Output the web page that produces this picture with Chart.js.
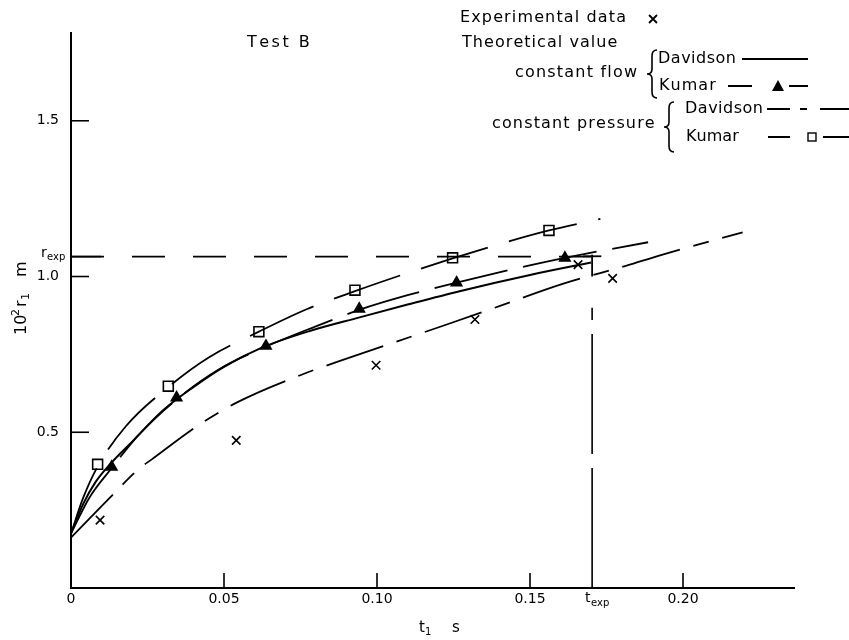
<!DOCTYPE html>
<html>
<head>
<meta charset="utf-8">
<script src="https://cdn.jsdelivr.net/npm/chart.js@4.4.0/dist/chart.umd.min.js"></script>
<style>
  html, body { margin: 0; padding: 0; background: #fff; }
  #wrap { width: 849px; height: 640px; }
</style>
</head>
<body>
<div id="wrap"><canvas id="chart" width="849" height="640"></canvas></div>
<script>
// Test B -- bubble radius 10^2 r1 (m) against time t1 (s)
const T_EXP = 0.1703;
const R_EXP = 1.064;

const xTicks = [0, 0.05, 0.10, 0.15, 0.20];
const xTickLabels = ['0', '0.05', '0.10', '0.15', '0.20'];
const yTicks = [0.5, 1.0, 1.5];
const yTickLabels = ['0.5', '1.0', '1.5'];

// experimental data (x)
const expT = [0.0095, 0.054, 0.0997, 0.132, 0.1657, 0.177];
const expR = [0.218, 0.474, 0.715, 0.862, 1.038, 0.994];

// constant flow, Davidson (solid)
const davFlowT = [0, 0.004, 0.008, 0.013, 0.02, 0.03, 0.04, 0.05, 0.062, 0.078, 0.094, 0.11, 0.127, 0.15, 0.17];
const davFlowR = [0.175, 0.27, 0.34, 0.40, 0.47, 0.57, 0.645, 0.71, 0.77, 0.825, 0.868, 0.91, 0.953, 1.005, 1.045];

// constant flow, Kumar (dashed, triangles)
const kumFlowT = [0, 0.006, 0.0133, 0.022, 0.0345, 0.048, 0.0637, 0.08, 0.0942, 0.11, 0.126, 0.145, 0.1614, 0.1886];
const kumFlowR = [0.175, 0.29, 0.385, 0.49, 0.605, 0.70, 0.775, 0.84, 0.893, 0.94, 0.98, 1.025, 1.06, 1.11];
const kumFlowMarkT = [0.0133, 0.0345, 0.0637, 0.0942, 0.126, 0.1614];
const kumFlowMarkR = [0.389, 0.611, 0.777, 0.896, 0.980, 1.060];

// constant pressure, Davidson (long-short dash)
const davPresT = [0, 0.0133, 0.022, 0.0264, 0.0422, 0.0541, 0.077, 0.0879, 0.1228, 0.14, 0.1609, 0.1816, 0.1925, 0.2195];
const davPresR = [0.162, 0.296, 0.381, 0.413, 0.526, 0.595, 0.691, 0.729, 0.846, 0.905, 0.977, 1.035, 1.068, 1.142];

// constant pressure, Kumar (dashed, squares)
const kumPresT = [0, 0.004, 0.0087, 0.018, 0.0318, 0.045, 0.0614, 0.077, 0.0928, 0.109, 0.1247, 0.14, 0.1562, 0.173];
const kumPresR = [0.175, 0.29, 0.39, 0.52, 0.645, 0.74, 0.823, 0.895, 0.953, 1.008, 1.058, 1.104, 1.148, 1.185];
const kumPresMarkT = [0.0087, 0.0318, 0.0614, 0.0928, 0.1247, 0.1562];
const kumPresMarkR = [0.397, 0.648, 0.823, 0.956, 1.060, 1.148];

const FONT = '"DejaVu Sans", "Liberation Sans", sans-serif';

function pts(xs, ys) {
    return xs.map((x, i) => ({ x: x, y: ys[i] }));
}

function lineSet(data, dash, width) {
    return {
        data: data,
        showLine: true,
        borderColor: '#000',
        borderWidth: width || 1.8,
        borderDash: dash || [],
        pointRadius: 0,
        cubicInterpolationMode: 'monotone',
        fill: false
    };
}

function markSet(data, style, radius, fillColor) {
    return {
        data: data,
        showLine: false,
        pointStyle: style,
        pointRadius: radius,
        pointBorderColor: '#000',
        pointBackgroundColor: fillColor,
        pointBorderWidth: 1.6
    };
}

// draw text spread to a given width (the reference lettering is wide)
function spaced(ctx, text, x, y, width) {
    let natural = ctx.measureText(text).width;
    let extra = width ? (width - natural) / Math.max(text.length - 1, 1) : 0;
    let cx = x;
    for (const ch of text) {
        ctx.fillText(ch, cx, y);
        cx += ctx.measureText(ch).width + extra;
    }
}

function brace(ctx, x, y1, y2) {
    const ym = (y1 + y2) / 2;
    ctx.beginPath();
    ctx.moveTo(x + 5, y1);
    ctx.quadraticCurveTo(x, y1, x, y1 + 6);
    ctx.lineTo(x, ym - 5);
    ctx.quadraticCurveTo(x, ym, x - 5, ym);
    ctx.quadraticCurveTo(x, ym, x, ym + 5);
    ctx.lineTo(x, y2 - 6);
    ctx.quadraticCurveTo(x, y2, x + 5, y2);
    ctx.stroke();
}

const decorPlugin = {
    id: 'decor',
    afterDraw(chart) {
        const ctx = chart.ctx;
        const xs = chart.scales.x;
        const ys = chart.scales.y;
        const area = chart.chartArea;
        const x0 = xs.getPixelForValue(0);
        const y0 = ys.getPixelForValue(0);
        ctx.save();
        ctx.strokeStyle = '#000';
        ctx.fillStyle = '#000';
        ctx.lineWidth = 2;

        // axes
        ctx.beginPath();
        ctx.moveTo(x0, area.top);
        ctx.lineTo(x0, y0);
        ctx.lineTo(area.right, y0);
        ctx.stroke();

        // x ticks, pointing inward
        ctx.lineWidth = 1.6;
        xTicks.forEach(v => {
            if (v === 0) return;
            const px = xs.getPixelForValue(v);
            ctx.beginPath();
            ctx.moveTo(px, y0);
            ctx.lineTo(px, y0 - 15);
            ctx.stroke();
        });
        // y ticks
        yTicks.forEach(v => {
            const py = ys.getPixelForValue(v);
            ctx.beginPath();
            ctx.moveTo(x0, py);
            ctx.lineTo(x0 + 18, py);
            ctx.stroke();
        });
        const pyExp = ys.getPixelForValue(R_EXP);
        ctx.beginPath();
        ctx.moveTo(x0, pyExp);
        ctx.lineTo(x0 + 30, pyExp);
        ctx.stroke();

        // tick labels
        ctx.font = '14px ' + FONT;
        ctx.textBaseline = 'middle';
        ctx.textAlign = 'center';
        xTicks.forEach((v, i) => {
            ctx.fillText(xTickLabels[i], xs.getPixelForValue(v), y0 + 11);
        });
        const pxT = xs.getPixelForValue(T_EXP);
        ctx.textAlign = 'left';
        ctx.fillText('t', pxT - 7, y0 + 10);
        ctx.font = '10px ' + FONT;
        ctx.fillText('exp', pxT - 1, y0 + 15);

        ctx.font = '14px ' + FONT;
        ctx.textAlign = 'right';
        yTicks.forEach((v, i) => {
            ctx.fillText(yTickLabels[i], x0 - 12, ys.getPixelForValue(v));
        });
        ctx.textAlign = 'left';
        ctx.fillText('r', x0 - 30, pyExp - 3);
        ctx.font = '10px ' + FONT;
        ctx.fillText('exp', x0 - 24, pyExp + 1);

        // axis titles
        ctx.font = '15px ' + FONT;
        ctx.textAlign = 'left';
        ctx.fillText('t', 419, 628);
        ctx.font = '10px ' + FONT;
        ctx.fillText('1', 425, 632);
        ctx.font = '15px ' + FONT;
        ctx.fillText('s', 452, 628);

        ctx.save();
        ctx.translate(22, 335);
        ctx.rotate(-Math.PI / 2);
        ctx.font = '16px ' + FONT;
        ctx.fillText('10', 0, 0);
        ctx.font = '11px ' + FONT;
        ctx.fillText('2', 19, -6);
        ctx.font = '16px ' + FONT;
        ctx.fillText('r', 28, 0);
        ctx.font = '11px ' + FONT;
        ctx.fillText('1', 35, 4);
        ctx.font = '16px ' + FONT;
        ctx.fillText('m', 58, 0);
        ctx.restore();

        // title
        ctx.font = '16px ' + FONT;
        spaced(ctx, 'Test B', 247, 43, 60);

        // legend
        spaced(ctx, 'Experimental data', 460, 18, 166);
        spaced(ctx, 'Theoretical value', 462, 43, 155);
        spaced(ctx, 'constant flow', 515, 73, 122);
        spaced(ctx, 'Davidson', 658, 59, 78);
        spaced(ctx, 'Kumar', 659, 86, 56);
        spaced(ctx, 'constant pressure', 492, 124, 162);
        spaced(ctx, 'Davidson', 685, 109, 78);
        spaced(ctx, 'Kumar', 686, 137, 52);

        ctx.lineWidth = 1.6;
        brace(ctx, 652, 50, 98);
        brace(ctx, 669, 102, 152);

        // legend samples
        ctx.lineWidth = 1.8;
        // x marker
        ctx.beginPath();
        ctx.moveTo(649, 15); ctx.lineTo(657, 23);
        ctx.moveTo(657, 15); ctx.lineTo(649, 23);
        ctx.stroke();
        // Davidson flow solid
        ctx.beginPath();
        ctx.moveTo(742, 59); ctx.lineTo(808, 59);
        ctx.stroke();
        // Kumar flow
        ctx.beginPath();
        ctx.moveTo(728, 86); ctx.lineTo(752, 86);
        ctx.moveTo(789, 86); ctx.lineTo(808, 86);
        ctx.stroke();
        ctx.beginPath();
        ctx.moveTo(778, 80); ctx.lineTo(784, 91); ctx.lineTo(772, 91);
        ctx.closePath();
        ctx.fill();
        // Davidson pressure
        ctx.beginPath();
        ctx.moveTo(767, 109); ctx.lineTo(790, 109);
        ctx.moveTo(800, 109); ctx.lineTo(807, 109);
        ctx.moveTo(820, 109); ctx.lineTo(849, 109);
        ctx.stroke();
        // Kumar pressure
        ctx.beginPath();
        ctx.moveTo(768, 137); ctx.lineTo(790, 137);
        ctx.moveTo(823, 137); ctx.lineTo(849, 137);
        ctx.stroke();
        ctx.lineWidth = 1.4;
        ctx.strokeRect(808, 133, 8, 8);

        ctx.restore();
    }
};

new Chart(document.getElementById('chart'), {
    type: 'scatter',
    data: {
        datasets: [
            lineSet(pts(davFlowT, davFlowR), [], 2),
            lineSet(pts(kumFlowT, kumFlowR), [75, 16]),
            lineSet(pts(davPresT, davPresR), [60, 14, 16, 14]),
            lineSet(pts(kumPresT, kumPresR), [70, 22]),
            lineSet(pts([0, T_EXP], [R_EXP, R_EXP]), [33, 28], 1.6),
            lineSet(pts([T_EXP, T_EXP], [0, 0.90]), [120, 14], 1.6),
            lineSet(pts([T_EXP, T_EXP], [1.0, 1.07]), [], 1.8),
            lineSet(pts([T_EXP - 0.003, T_EXP + 0.003], [1.065, 1.065]), [], 1.8),
            markSet(pts(expT, expR), 'crossRot', 6, '#000'),
            markSet(pts(kumFlowMarkT, kumFlowMarkR), 'triangle', 6, '#000'),
            markSet(pts(kumPresMarkT, kumPresMarkR), 'rect', 7, '#fff')
        ]
    },
    options: {
        responsive: false,
        animation: false,
        devicePixelRatio: 1,
        layout: { padding: { left: 71, right: 54, top: 32, bottom: 52 } },
        plugins: {
            legend: { display: false },
            tooltip: { enabled: false }
        },
        scales: {
            x: { type: 'linear', min: 0, max: 0.2366, display: false },
            y: { type: 'linear', min: 0, max: 1.785, display: false }
        }
    },
    plugins: [decorPlugin]
});
</script>
</body>
</html>
